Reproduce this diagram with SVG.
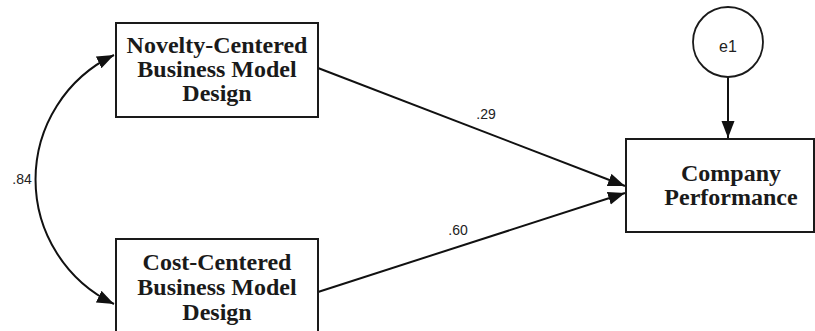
<svg xmlns="http://www.w3.org/2000/svg" width="815" height="331" viewBox="0 0 815 331">
  <defs>
    <marker id="ah" markerUnits="userSpaceOnUse" markerWidth="18" markerHeight="14" refX="17" refY="6.5" orient="auto-start-reverse">
      <path d="M0,0 L17,6.5 L0,13 z" fill="#111"/>
    </marker>
  </defs>
  <style>
    .box { fill: #fff; stroke: #1a1a1a; stroke-width: 2; }
    .node-text { font-family: "Liberation Serif", "Times New Roman", serif; font-weight: bold; font-size: 24px; fill: #1a1a1a; text-anchor: middle; }
    .edge { fill: none; stroke: #111; stroke-width: 2; }
    .lbl { font-family: "Liberation Sans", Arial, sans-serif; font-size: 14px; fill: #222; text-anchor: middle; }
  </style>
  <rect width="815" height="331" fill="#fff"/>
  <g id="connectors">
    <path class="edge" d="M114,55 A138,138 0 0 0 114,304" marker-start="url(#ah)" marker-end="url(#ah)"/>
    <line class="edge" x1="318" y1="68" x2="625" y2="186" marker-end="url(#ah)"/>
    <line class="edge" x1="318" y1="292" x2="625" y2="193" marker-end="url(#ah)"/>
    <line class="edge" x1="728" y1="77" x2="728" y2="138" marker-end="url(#ah)"/>
    <text class="lbl" x="22" y="184">.84</text>
    <text class="lbl" x="486" y="119">.29</text>
    <text class="lbl" x="458" y="235">.60</text>
  </g>
  <g id="novelty">
    <rect class="box" x="116" y="23" width="202" height="94"/>
    <text class="node-text" x="217" y="53">Novelty-Centered</text>
    <text class="node-text" x="217" y="77">Business Model</text>
    <text class="node-text" x="217" y="101">Design</text>
  </g>
  <g id="cost">
    <rect class="box" x="116" y="239" width="202" height="100"/>
    <text class="node-text" x="217" y="270">Cost-Centered</text>
    <text class="node-text" x="217" y="295">Business Model</text>
    <text class="node-text" x="217" y="320">Design</text>
  </g>
  <g id="performance">
    <rect class="box" x="626" y="139" width="188" height="93"/>
    <text class="node-text" x="731" y="181">Company</text>
    <text class="node-text" x="731" y="205">Performance</text>
  </g>
  <g id="e1">
    <circle cx="728" cy="42" r="35" fill="#fff" stroke="#1a1a1a" stroke-width="1.8"/>
    <text x="728" y="52" font-family="Liberation Sans, Arial, sans-serif" font-size="16" fill="#222" text-anchor="middle">e1</text>
  </g>
</svg>
